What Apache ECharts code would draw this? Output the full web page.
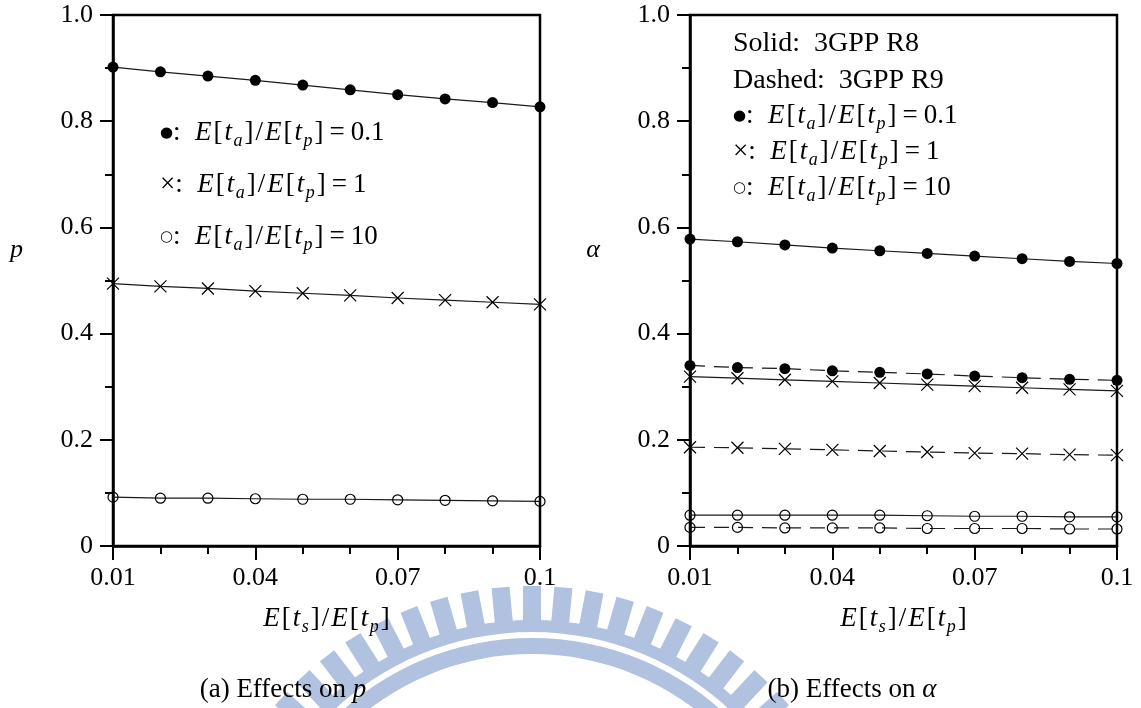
<!DOCTYPE html>
<html>
<head>
<meta charset="utf-8">
<script src="https://cdn.jsdelivr.net/npm/echarts@6/dist/echarts.min.js"></script>
<style>html,body{margin:0;padding:0;background:#fff}#c{width:1141px;height:708px}</style>
</head>
<body>
<div id="c"></div>
<script>
// ---- data ----
const xValues = [0.01, 0.02, 0.03, 0.04, 0.05, 0.06, 0.07, 0.08, 0.09, 0.1];
const xTickLabels = ['0.01', '0.04', '0.07', '0.1'];
const yTickLabels = ['0', '0.2', '0.4', '0.6', '0.8', '1.0'];
// (a) effects on p
const pDot    = [0.902, 0.893, 0.885, 0.877, 0.868, 0.859, 0.850, 0.842, 0.835, 0.827];
const pCross  = [0.494, 0.489, 0.485, 0.480, 0.476, 0.472, 0.467, 0.463, 0.459, 0.455];
const pCircle = [0.092, 0.090, 0.090, 0.089, 0.088, 0.088, 0.087, 0.086, 0.085, 0.084];
// (b) effects on alpha
const aDotR8    = [0.578, 0.573, 0.567, 0.561, 0.556, 0.551, 0.546, 0.541, 0.536, 0.532];
const aDotR9    = [0.340, 0.336, 0.334, 0.330, 0.327, 0.324, 0.320, 0.317, 0.314, 0.312];
const aCrossR8  = [0.319, 0.316, 0.313, 0.310, 0.307, 0.304, 0.301, 0.298, 0.295, 0.292];
const aCrossR9  = [0.186, 0.185, 0.183, 0.181, 0.179, 0.177, 0.175, 0.174, 0.172, 0.171];
const aCircleR8 = [0.058, 0.058, 0.058, 0.058, 0.058, 0.057, 0.056, 0.056, 0.055, 0.055];
const aCircleR9 = [0.035, 0.035, 0.034, 0.034, 0.034, 0.033, 0.033, 0.033, 0.032, 0.032];

// ---- styling ----
const FONT = 'Liberation Serif';
const FS = 26;
const LFS = 27;
const rich = {
  i: { fontFamily: FONT, fontStyle: 'italic', fontSize: LFS, color: '#000', padding: [0, 1, 0, 1] },
  u: { fontFamily: FONT, fontSize: LFS, color: '#000', padding: [0, 1, 0, 1] },
  s: { fontFamily: FONT, fontStyle: 'italic', fontSize: 18, color: '#000', padding: [16, 1, 0, 0.5] },
  e: { fontFamily: FONT, fontSize: LFS, color: '#000', padding: [0, 5, 0, 5] },
  t: { fontFamily: FONT, fontSize: 28, color: '#000' },
  b: { fontFamily: 'DejaVu Sans', fontSize: 15, color: '#000' },
  o: { fontFamily: 'DejaVu Sans', fontSize: 15, color: '#000' },
  x: { fontFamily: FONT, fontSize: LFS, color: '#000' },
  c: { fontFamily: FONT, fontSize: 27, color: '#000' },
  ci: { fontFamily: FONT, fontStyle: 'italic', fontSize: 27, color: '#000' },
  n: { fontFamily: FONT, fontStyle: 'italic', fontSize: FS, color: '#000', padding: [0, 0, 60, 0] }
};
const ratioText = '{i|E}{u|[}{i|t}{s|a}{u|]}{u|/}{i|E}{u|[}{i|t}{s|p}{u|]}';
const xName = '{i|E}{u|[}{i|t}{s|s}{u|]}{u|/}{i|E}{u|[}{i|t}{s|p}{u|]}';

const LINE = '#1a1a1a';
const crossPath = 'path://M0,0L10,10M10,0L0,10';
function mk(data, kind, dashed, xi, yi) {
  const base = {
    type: 'line',
    data: xValues.map((x, k) => [x, data[k]]),
    xAxisIndex: xi, yAxisIndex: yi,
    showSymbol: true, clip: false, animation: false, silent: true,
    lineStyle: { color: LINE, width: 1.2, type: dashed ? [15, 9] : 'solid' },
    emphasis: { disabled: true },
    z: 3
  };
  if (kind === 'dot') {
    base.symbol = 'circle'; base.symbolSize = 11;
    base.itemStyle = { color: '#000' };
  } else if (kind === 'cross') {
    base.symbol = crossPath; base.symbolSize = 12;
    base.itemStyle = { color: 'rgba(0,0,0,0)', borderColor: '#000', borderWidth: 1.2 };
  } else {
    base.symbol = 'circle'; base.symbolSize = 10;
    base.itemStyle = { color: 'rgba(0,0,0,0)', borderColor: '#000', borderWidth: 1.2 };
  }
  return base;
}

function xAxis(gi) {
  return {
    type: 'value', gridIndex: gi, min: 0.01, max: 0.1, interval: 0.03,
    name: xName, nameLocation: 'middle', nameGap: 56,
    nameTextStyle: { rich: rich },
    axisLine: { onZero: false, lineStyle: { color: '#000', width: 2.5 } },
    axisTick: { length: 14, lineStyle: { color: '#000', width: 2 } },
    minorTick: { show: true, splitNumber: 3, length: 8, lineStyle: { color: '#000', width: 2 } },
    splitLine: { show: false },
    axisLabel: {
      margin: 19, fontFamily: FONT, fontSize: FS, color: '#000',
      formatter: v => {
        const s = String(Math.round(v * 100) / 100);
        return xTickLabels.indexOf(s) >= 0 ? s : '';
      }
    }
  };
}
function yAxis(gi, nm) {
  return {
    type: 'value', gridIndex: gi, min: 0, max: 1, interval: 0.2,
    name: '{n|' + nm + '}', nameLocation: 'middle', nameGap: 90, nameRotate: 0,
    nameTextStyle: { rich: rich },
    axisLine: { lineStyle: { color: '#000', width: 2.5 } },
    axisTick: { length: 13, lineStyle: { color: '#000', width: 2 } },
    minorTick: { show: true, splitNumber: 2, length: 8, lineStyle: { color: '#000', width: 2 } },
    splitLine: { show: false },
    axisLabel: {
      margin: 20, fontFamily: FONT, fontSize: FS, color: '#000',
      formatter: v => yTickLabels[Math.round(v * 5)]
    }
  };
}

// ---- watermark (decorative logo) ----
const WM = '#b1c1e0';
const wmCx = 532, wmCy = 922;
const wm = [
  { type: 'ring', z: -5, silent: true, shape: { cx: wmCx, cy: wmCy, r: 302, r0: 290 }, style: { fill: WM } },
  { type: 'ring', z: -5, silent: true, shape: { cx: wmCx, cy: wmCy, r: 284, r0: 268 }, style: { fill: WM } }
];
const step = 5.37 * Math.PI / 180;
for (let k = -22; k <= 22; k++) {
  wm.push({ type: 'rect', z: -5, silent: true, x: wmCx, y: wmCy, rotation: k * step,
    shape: { x: -9, y: -336, width: 18, height: 40 }, style: { fill: WM } });
}

function txt(x, y, text) {
  return { type: 'text', x: x, y: y, z: 20, silent: true,
    style: { text: text, rich: rich, verticalAlign: 'middle', align: 'left' } };
}

const chart = echarts.init(document.getElementById('c'));
chart.setOption({
  backgroundColor: '#fff',
  animation: false,
  grid: [
    { left: 113, top: 15, width: 427, height: 531, show: true, borderColor: '#000', borderWidth: 2.5, backgroundColor: 'transparent' },
    { left: 690, top: 15, width: 427, height: 531, show: true, borderColor: '#000', borderWidth: 2.5, backgroundColor: 'transparent' }
  ],
  xAxis: [xAxis(0), xAxis(1)],
  yAxis: [yAxis(0, 'p'), yAxis(1, 'α')],
  series: [
    mk(pDot, 'dot', false, 0, 0),
    mk(pCross, 'cross', false, 0, 0),
    mk(pCircle, 'circle', false, 0, 0),
    mk(aDotR8, 'dot', false, 1, 1),
    mk(aDotR9, 'dot', true, 1, 1),
    mk(aCrossR8, 'cross', false, 1, 1),
    mk(aCrossR9, 'cross', true, 1, 1),
    mk(aCircleR8, 'circle', false, 1, 1),
    mk(aCircleR9, 'circle', true, 1, 1)
  ],
  graphic: wm.concat([
    txt(160, 133, '{b|●}{x|:  }' + ratioText + '{e|=}{u|0.1}'),
    txt(160, 185, '{x|×:  }' + ratioText + '{e|=}{u|1}'),
    txt(160, 237, '{o|○}{x|:  }' + ratioText + '{e|=}{u|10}'),
    txt(733, 44, '{t|Solid:  3GPP R8}'),
    txt(733, 81, '{t|Dashed:  3GPP R9}'),
    txt(733, 116, '{b|●}{x|:  }' + ratioText + '{e|=}{u|0.1}'),
    txt(733, 152, '{x|×:  }' + ratioText + '{e|=}{u|1}'),
    txt(733, 188, '{o|○}{x|:  }' + ratioText + '{e|=}{u|10}'),
    { type: 'text', x: 283, y: 690, z: 20, silent: true,
      style: { text: '{c|(a) Effects on }{ci|p}', rich: rich, align: 'center', verticalAlign: 'middle' } },
    { type: 'text', x: 852, y: 690, z: 20, silent: true,
      style: { text: '{c|(b) Effects on }{ci|α}', rich: rich, align: 'center', verticalAlign: 'middle' } }
  ])
});
</script>
</body>
</html>
